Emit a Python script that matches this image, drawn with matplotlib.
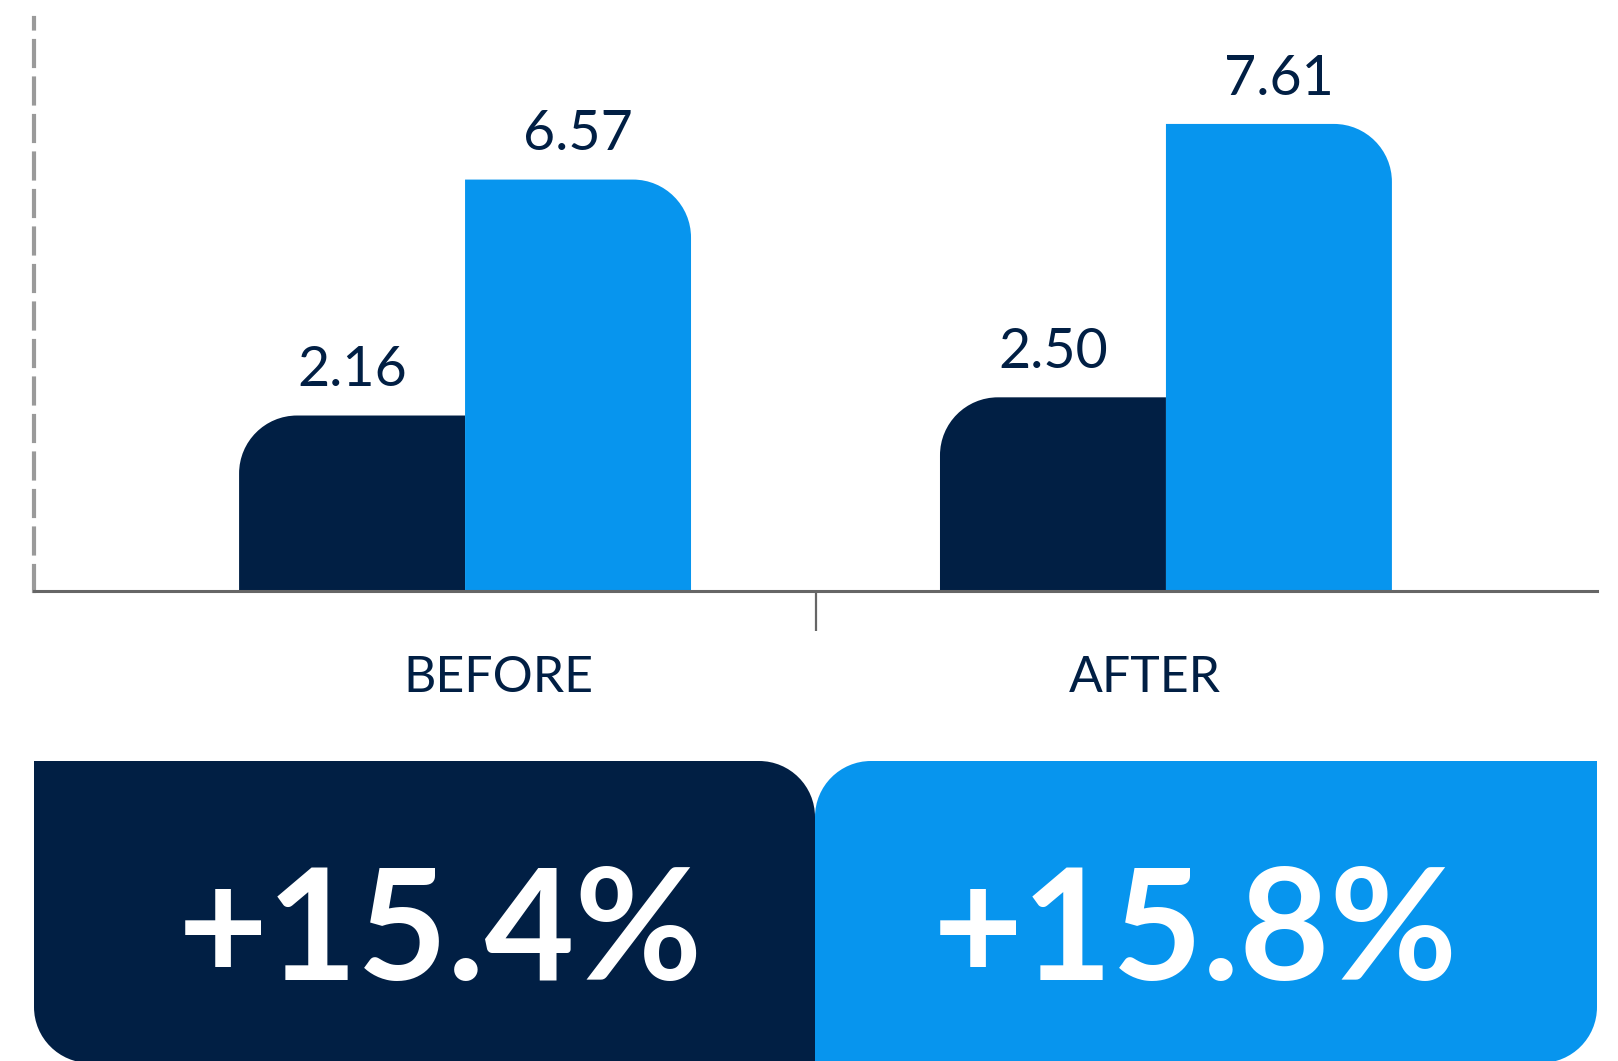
"""
Before/after grouped bars with rounded corners and two percentage boxes below.
"""

import matplotlib
matplotlib.use("Agg")
import matplotlib.pyplot as plt
from matplotlib.path import Path
from matplotlib.patches import PathPatch

# data
categories = ["BEFORE", "AFTER"]
series_a = [2.16, 2.50]
series_b = [6.57, 7.61]
value_labels_a = ["2.16", "2.50"]
value_labels_b = ["6.57", "7.61"]
change_labels = ["+15.4%", "+15.8%"]

NAVY = "#011f44"
BLUE = "#0795ee"
GRID_GRAY = "#9a9a9a"
AXIS_GRAY = "#666666"

plt.rcParams["font.family"] = ["Lato", "DejaVu Sans"]

W_PX, H_PX, DPI = 1618, 1061, 100
BASE = -1.12       # bars start a little below zero, as in the original graphic
BAR_W = 0.3224
R_PX = 58          # corner radius in pixels
K = 0.5523         # bezier circle constant


def rounded_path(x0, y0, x1, y1, rx, ry, tl=False, tr=False, br=False, bl=False):
    verts = [(x0 + (rx if bl else 0), y0)]
    codes = [Path.MOVETO]
    verts.append((x1 - (rx if br else 0), y0)); codes.append(Path.LINETO)
    if br:
        verts += [(x1 - rx + K * rx, y0), (x1, y0 + ry - K * ry), (x1, y0 + ry)]
        codes += [Path.CURVE4] * 3
    verts.append((x1, y1 - (ry if tr else 0))); codes.append(Path.LINETO)
    if tr:
        verts += [(x1, y1 - ry + K * ry), (x1 - rx + K * rx, y1), (x1 - rx, y1)]
        codes += [Path.CURVE4] * 3
    verts.append((x0 + (rx if tl else 0), y1)); codes.append(Path.LINETO)
    if tl:
        verts += [(x0 + rx - K * rx, y1), (x0, y1 - ry + K * ry), (x0, y1 - ry)]
        codes += [Path.CURVE4] * 3
    verts.append((x0, y0 + (ry if bl else 0))); codes.append(Path.LINETO)
    if bl:
        verts += [(x0, y0 + ry - K * ry), (x0 + rx - K * rx, y0), (x0 + rx, y0)]
        codes += [Path.CURVE4] * 3
    verts.append(verts[0]); codes.append(Path.CLOSEPOLY)
    return Path(verts, codes)


fig = plt.figure(figsize=(W_PX / DPI, H_PX / DPI), dpi=DPI)
ax = fig.add_axes([34 / W_PX, 470 / H_PX, 1563 / W_PX, 573 / H_PX])
ax.set_xlim(-0.615, 1.615)
ax.set_ylim(BASE, 9.59)

x = list(range(len(categories)))
bars_a = ax.bar([i - BAR_W / 2 for i in x], [v - BASE for v in series_a],
                width=BAR_W, bottom=BASE, color=NAVY)
bars_b = ax.bar([i + BAR_W / 2 for i in x], [v - BASE for v in series_b],
                width=BAR_W, bottom=BASE, color=BLUE)

# swap the plain rectangles for ones with a single rounded top corner
fig.canvas.draw()
px_x = ax.transData.transform((1, 0))[0] - ax.transData.transform((0, 0))[0]
px_y = ax.transData.transform((0, 1))[1] - ax.transData.transform((0, 0))[1]
rx, ry = R_PX / px_x, R_PX / px_y
for bars, color, corner in [(bars_a, NAVY, "tl"), (bars_b, BLUE, "tr")]:
    for b in bars:
        b.set_visible(False)
        x0, y0 = b.get_x(), b.get_y()
        p = rounded_path(x0, y0, x0 + b.get_width(), y0 + b.get_height(),
                         rx, ry, **{corner: True})
        ax.add_patch(PathPatch(p, facecolor=color, edgecolor="none", zorder=1))

for bars, labels in [(bars_a, value_labels_a), (bars_b, value_labels_b)]:
    for b, lab in zip(bars, labels):
        ax.annotate(lab, xy=(b.get_x() + b.get_width() / 2, b.get_y() + b.get_height()),
                    xytext=(0, 21), textcoords="offset points", ha="center",
                    va="baseline", fontsize=40, fontweight="normal", color=NAVY)

# category names sit slightly off the group centres in the original
label_nudge = [24, -15]
for i, cat, dx in zip(x, categories, label_nudge):
    ax.annotate(cat, xy=(i, 0), xycoords=("data", "axes fraction"),
                xytext=(dx, -73), textcoords="offset points", ha="center",
                va="baseline", fontsize=36, color=NAVY)

# axes styling
for side in ["top", "right"]:
    ax.spines[side].set_visible(False)
ax.spines["left"].set_color(GRID_GRAY)
ax.spines["left"].set_linewidth(3)
ax.spines["left"].set_linestyle((0, (6, 3)))
ax.spines["bottom"].set_color(AXIS_GRAY)
ax.spines["bottom"].set_linewidth(2.2)
ax.set_yticks([])
ax.set_xticks([0.5])
ax.set_xticklabels([""])
ax.tick_params(axis="x", length=29, width=1.6, color=AXIS_GRAY, direction="out")

# percentage boxes along the bottom
box_r = 56
box_top = 300 / H_PX
boxes = [(34 / W_PX, 815 / W_PX, 440 / W_PX, NAVY, dict(tr=True, bl=True)),
         (815 / W_PX, 1597 / W_PX, 1195 / W_PX, BLUE, dict(tl=True, br=True))]
for (x0, x1, xt, color, corners), text in zip(boxes, change_labels):
    p = rounded_path(x0, -2 / H_PX, x1, box_top, box_r / W_PX, box_r / H_PX, **corners)
    fig.add_artist(PathPatch(p, facecolor=color, edgecolor="none",
                             transform=fig.transFigure))
    fig.text(xt, 81 / H_PX, text, ha="center", va="baseline",
             fontsize=112, fontweight="bold", color="white")

plt.savefig("out.png", dpi=DPI)
